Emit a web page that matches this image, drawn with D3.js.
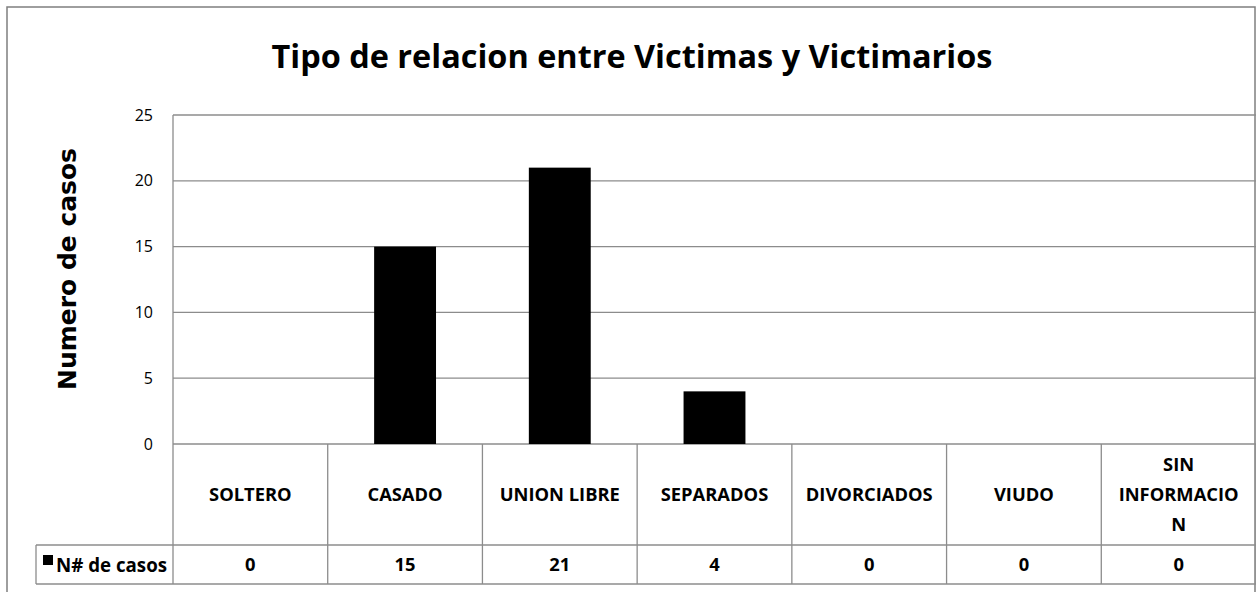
<!DOCTYPE html>
<html>
<head>
<meta charset="utf-8">
<script src="https://cdn.jsdelivr.net/npm/d3@7"></script>
<style>
  body { margin: 0; background: #fff; }
  svg { display: block; }
</style>
</head>
<body>
<svg id="chart" width="1256" height="592"></svg>
<script>
// data
var categories = ["SOLTERO", "CASADO", "UNION LIBRE", "SEPARADOS", "DIVORCIADOS", "VIUDO", "SIN INFORMACION"];
var categoryLines = [["SOLTERO"], ["CASADO"], ["UNION LIBRE"], ["SEPARADOS"], ["DIVORCIADOS"], ["VIUDO"], ["SIN", "INFORMACIO", "N"]];
var casos = [0, 15, 21, 4, 0, 0, 0];
var yTicks = [0, 5, 10, 15, 20, 25];
var seriesName = "N# de casos";
var chartTitle = "Tipo de relacion entre Victimas y Victimarios";
var yTitle = "Numero de casos";

var width = 1256;
var height = 592;
var plot = { left: 173, right: 1256, top: 115, bottom: 444 };
var headerBottom = 545;
var tableBottom = 584;
var legendLeft = 36;
var gridColor = "#8c8c8c";
var bodyFont = "'Open Sans', 'DejaVu Sans', sans-serif";

var svg = d3.select("#chart");

svg.append("rect")
  .attr("width", width).attr("height", height)
  .attr("fill", "#fff");

// outer chart border
svg.append("rect")
  .attr("x", 7).attr("y", 7)
  .attr("width", 1248).attr("height", 600)
  .attr("fill", "none")
  .attr("stroke", "#7f7f7f")
  .attr("stroke-width", 1.5);

function fitText(sel, target) {
  var len = sel.node().getComputedTextLength();
  var fs = parseFloat(sel.style("font-size"));
  sel.style("font-size", (fs * target / len) + "px");
}

// title
var title = svg.append("text")
  .attr("x", 632)
  .attr("y", 68)
  .attr("text-anchor", "middle")
  .style("font-family", bodyFont)
  .style("font-weight", "bold")
  .style("font-size", "34px")
  .text(chartTitle);
fitText(title, 721);

var y = d3.scaleLinear().domain([0, 25]).range([plot.bottom, plot.top]);
var x = d3.scaleBand().domain(categories).range([plot.left, plot.right])
  .paddingInner(0.6).paddingOuter(0.3);
var cell = d3.scaleBand().domain(categories).range([plot.left, plot.right]);

// gridlines
svg.append("g")
  .selectAll("line")
  .data(yTicks)
  .enter()
  .append("line")
  .attr("x1", plot.left).attr("x2", plot.right)
  .attr("y1", d => y(d)).attr("y2", d => y(d))
  .attr("stroke", gridColor)
  .attr("stroke-width", 1.3);

// y axis labels
var yAxis = svg.append("g")
  .attr("transform", "translate(" + (plot.left - 20) + ",0)")
  .call(d3.axisLeft(y).tickValues(yTicks).tickSize(0).tickPadding(0));
yAxis.select(".domain").remove();
yAxis.selectAll("text")
  .style("font-family", bodyFont)
  .style("font-size", "16px")
  .attr("fill", "#000");

// y title
var yt = svg.append("text")
  .attr("transform", "translate(76,269) rotate(-90)")
  .attr("text-anchor", "middle")
  .style("font-family", "'DejaVu Sans', sans-serif")
  .style("font-weight", "bold")
  .style("font-size", "22px")
  .text(yTitle);
fitText(yt, 242);

// bars
svg.append("g")
  .selectAll("rect")
  .data(casos)
  .enter()
  .append("rect")
  .attr("x", (d, i) => x(categories[i]))
  .attr("y", d => y(d))
  .attr("width", x.bandwidth())
  .attr("height", d => y(0) - y(d))
  .attr("fill", "#000");

// data table lines
var table = svg.append("g")
  .attr("stroke", gridColor)
  .attr("stroke-width", 1.3);

table.append("line")
  .attr("x1", plot.left).attr("x2", plot.left)
  .attr("y1", plot.top).attr("y2", tableBottom);
table.selectAll(".vline")
  .data(categories)
  .enter()
  .append("line")
  .attr("class", "vline")
  .attr("x1", d => cell(d) + cell.bandwidth())
  .attr("x2", d => cell(d) + cell.bandwidth())
  .attr("y1", plot.bottom).attr("y2", tableBottom);
table.append("line")
  .attr("x1", legendLeft).attr("x2", plot.right)
  .attr("y1", headerBottom).attr("y2", headerBottom);
table.append("line")
  .attr("x1", legendLeft).attr("x2", plot.right)
  .attr("y1", tableBottom).attr("y2", tableBottom);
table.append("line")
  .attr("x1", legendLeft).attr("x2", legendLeft)
  .attr("y1", headerBottom).attr("y2", tableBottom);

// category labels, font sized so DIVORCIADOS matches the reference width
var probe = svg.append("text")
  .style("font-family", bodyFont)
  .style("font-weight", "bold")
  .style("font-size", "20px")
  .text("DIVORCIADOS");
var tableFont = 20 * 127 / probe.node().getComputedTextLength();
probe.remove();

var labels = svg.append("g")
  .selectAll("text")
  .data(categories)
  .enter()
  .append("text")
  .attr("text-anchor", "middle")
  .style("font-family", bodyFont)
  .style("font-weight", "bold")
  .style("font-size", tableFont + "px");

labels.each(function (d, i) {
  var lines = categoryLines[i];
  var cx = cell(d) + cell.bandwidth() / 2;
  var top = 495 - (lines.length - 1) * 30 / 2;
  d3.select(this).selectAll("tspan")
    .data(lines)
    .enter()
    .append("tspan")
    .attr("x", cx)
    .attr("y", (l, j) => top + j * 30)
    .attr("dy", "0.35em")
    .text(l => l);
});

// values row
svg.append("g")
  .selectAll("text")
  .data(casos)
  .enter()
  .append("text")
  .attr("x", (d, i) => cell(categories[i]) + cell.bandwidth() / 2)
  .attr("y", 565)
  .attr("dy", "0.35em")
  .attr("text-anchor", "middle")
  .style("font-family", bodyFont)
  .style("font-weight", "bold")
  .style("font-size", tableFont + "px")
  .text(d => d);

// legend key
svg.append("rect")
  .attr("x", 43).attr("y", 555)
  .attr("width", 10).attr("height", 10)
  .attr("fill", "#000");
var legText = svg.append("text")
  .attr("x", 56)
  .attr("y", 565)
  .attr("dy", "0.35em")
  .style("font-family", bodyFont)
  .style("font-weight", "bold")
  .style("font-size", tableFont + "px")
  .text(seriesName);
fitText(legText, 111);
</script>
</body>
</html>
